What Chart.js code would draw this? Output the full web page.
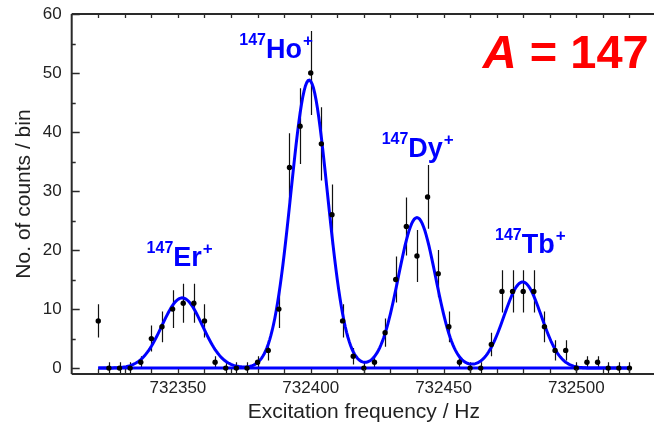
<!DOCTYPE html>
<html>
<head>
<meta charset="utf-8">
<script src="https://cdn.jsdelivr.net/npm/chart.js@4/dist/chart.umd.min.js"></script>
<style>
  html, body { margin: 0; padding: 0; background: #fff; overflow: hidden; width: 654px; height: 425px; }
  #wrap { position: relative; width: 660px; height: 425px; }
</style>
</head>
<body>
<div id="wrap"><canvas id="c" width="660" height="425"></canvas></div>
<script>
// Excitation frequency bins (Hz)
const frequencies = [
  732320, 732324, 732328, 732332, 732336, 732340, 732344, 732348, 732352, 732356,
  732360, 732364, 732368, 732372, 732376, 732380, 732384, 732388, 732392, 732396,
  732400, 732404, 732408, 732412, 732416, 732420, 732424, 732428, 732432, 732436,
  732440, 732444, 732448, 732452, 732456, 732460, 732464, 732468, 732472, 732476,
  732480, 732484, 732488, 732492, 732496, 732500, 732504, 732508, 732512, 732516,
  732520
];
// Counts per bin
const counts = [
  8, 0, 0, 0, 1, 5, 7, 10, 11, 11,
  8, 1, 0, 0, 0, 1, 3, 10, 34, 41,
  50, 38, 26, 8, 2, 0, 1, 6, 15, 24,
  19, 29, 16, 7, 1, 0, 0, 4, 13, 13,
  13, 13, 7, 3, 3, 0, 1, 1, 0, 0,
  0
];
// Statistical uncertainty of each bin
const countErrors = [
  2.8, 1, 1, 1, 1, 2.2, 2.6, 3.2, 3.3, 3.3,
  2.8, 1, 1, 1, 1, 1, 1.7, 3.2, 5.8, 6.4,
  7.1, 6.2, 5.1, 2.8, 1.4, 1, 1, 2.4, 3.9, 4.9,
  4.4, 5.4, 4, 2.6, 1, 1, 1, 2, 3.6, 3.6,
  3.6, 3.6, 2.6, 1.7, 1.7, 1, 1, 1, 1, 1,
  1
];
// Gaussian fit of the four isobars
const peakNames   = ['Er', 'Ho', 'Dy', 'Tb'];
const peakCenters = [732351.6, 732399.4, 732440.0, 732479.8];
const peakHeights = [11.9, 48.8, 25.5, 14.6];
const peakSigmas  = [7.6, 6.9, 7.0, 7.0];
const massNumber  = '147';

const xTickValues = [732350, 732400, 732450, 732500];
const yTickValues = [0, 10, 20, 30, 40, 50, 60];

const FONT = '"Liberation Sans", Arial, sans-serif';
const BLUE = '#0000ff';

// fitted line, evaluated on a fine grid
function fitValue(f) {
  let s = 0;
  for (let i = 0; i < peakCenters.length; i++) {
    const d = f - peakCenters[i];
    s += peakHeights[i] * Math.exp(-d * d / (2 * peakSigmas[i] * peakSigmas[i]));
  }
  return s;
}
const fitCurve = [];
for (let f = frequencies[0]; f <= frequencies[frequencies.length - 1] + 1e-6; f += 0.5) {
  fitCurve.push({ x: f, y: fitValue(f) });
}

// label anchors (left edge / baseline, in data units)
const labelAnchors = [
  { x: 732338.2, y: 17.3 },
  { x: 732373.1, y: 52.5 },
  { x: 732426.7, y: 35.8 },
  { x: 732469.4, y: 19.5 }
];

const errorBars = {
  id: 'errorBars',
  beforeDatasetsDraw(chart) {
    const { ctx, scales: { x, y } } = chart;
    ctx.save();
    ctx.strokeStyle = '#111';
    ctx.lineWidth = 1.2;
    ctx.beginPath();
    for (let i = 0; i < frequencies.length; i++) {
      const px = Math.round(x.getPixelForValue(frequencies[i])) + 0.5;
      ctx.moveTo(px, y.getPixelForValue(counts[i] - countErrors[i]));
      ctx.lineTo(px, y.getPixelForValue(counts[i] + countErrors[i]));
    }
    ctx.stroke();
    ctx.restore();
  }
};

const frame = {
  id: 'frame',
  afterDraw(chart) {
    const { ctx, chartArea: a, scales: { x, y } } = chart;
    ctx.save();
    ctx.strokeStyle = '#2a2a2a';
    ctx.lineWidth = 2;
    ctx.beginPath();
    ctx.moveTo(a.left, a.top); ctx.lineTo(a.right + 5, a.top);
    ctx.moveTo(a.left, a.top); ctx.lineTo(a.left, a.bottom);
    ctx.moveTo(a.left, a.bottom); ctx.lineTo(a.right + 5, a.bottom);
    ctx.stroke();
    ctx.lineWidth = 1.3;
    ctx.beginPath();
    // x ticks every 10 Hz, inward on bottom and top
    for (let f = Math.ceil(x.min / 10) * 10; f <= x.max; f += 10) {
      const px = Math.round(x.getPixelForValue(f)) + 0.5;
      if (px <= a.left + 2) continue;
      ctx.moveTo(px, a.bottom); ctx.lineTo(px, a.bottom - 5);
      ctx.moveTo(px, a.top); ctx.lineTo(px, a.top + 4);
    }
    // y ticks: major 10, minor 5
    for (let v = 0; v <= y.max; v += 5) {
      const py = Math.round(y.getPixelForValue(v)) + 0.5;
      const len = v % 10 === 0 ? 8 : 4;
      ctx.moveTo(a.left, py); ctx.lineTo(a.left + len, py);
    }
    ctx.stroke();
    ctx.restore();
  }
};

const peakLabels = {
  id: 'peakLabels',
  afterDatasetsDraw(chart) {
    const { ctx, scales: { x, y } } = chart;
    ctx.save();
    ctx.fillStyle = BLUE;
    ctx.textBaseline = 'alphabetic';
    ctx.textAlign = 'left';
    for (let i = 0; i < peakNames.length; i++) {
      let px = x.getPixelForValue(labelAnchors[i].x);
      const base = y.getPixelForValue(labelAnchors[i].y);
      ctx.font = 'bold 16px ' + FONT;
      ctx.fillText(massNumber, px, base - 13);
      px += ctx.measureText(massNumber).width;
      ctx.font = 'bold 27px ' + FONT;
      ctx.fillText(peakNames[i], px, base);
      px += ctx.measureText(peakNames[i]).width + 1;
      ctx.font = 'bold 17px ' + FONT;
      ctx.fillText('+', px, base - 12);
    }
    // mass number tag
    ctx.fillStyle = '#ff0000';
    let tx = x.getPixelForValue(732464.8);
    const ty = y.getPixelForValue(50.8);
    ctx.font = 'italic bold 47px ' + FONT;
    ctx.fillText('A', tx, ty);
    tx += ctx.measureText('A').width;
    ctx.font = 'bold 47px ' + FONT;
    ctx.fillText(' = ' + massNumber, tx, ty);
    ctx.restore();
  }
};

new Chart(document.getElementById('c'), {
  type: 'scatter',
  data: {
    datasets: [
      {
        label: 'counts',
        data: frequencies.map((f, i) => ({ x: f, y: counts[i] })),
        backgroundColor: '#000',
        borderColor: '#000',
        pointRadius: 2.7,
        pointBorderWidth: 0,
        order: 0
      },
      {
        label: 'fit',
        type: 'line',
        data: fitCurve,
        borderColor: BLUE,
        borderWidth: 3,
        pointRadius: 0,
        tension: 0,
        fill: false,
        order: 1
      },
      {
        label: 'baseline',
        type: 'line',
        data: [{ x: frequencies[0], y: 0 }, { x: frequencies[frequencies.length - 1], y: 0 }],
        borderColor: BLUE,
        borderWidth: 3,
        pointRadius: 0,
        fill: false,
        order: 2
      }
    ]
  },
  options: {
    responsive: false,
    devicePixelRatio: 1,
    animation: false,
    layout: { padding: { top: 14, right: 3, left: 0, bottom: 0 } },
    plugins: { legend: { display: false }, tooltip: { enabled: false } },
    scales: {
      x: {
        type: 'linear',
        min: 732310,
        max: 732530,
        grid: { display: false, drawTicks: false },
        border: { display: false },
        afterBuildTicks: (s) => { s.ticks = xTickValues.map(v => ({ value: v })); },
        afterFit: (s) => { s.height = 51; s.paddingLeft = 0; s.paddingRight = 0; },
        ticks: {
          color: '#222',
          padding: 4,
          maxRotation: 0,
          font: { family: FONT, size: 17 },
          callback: (v) => String(v)
        },
        title: {
          display: true,
          text: 'Excitation frequency / Hz',
          color: '#222',
          font: { family: FONT, size: 21 },
          padding: { top: 0, bottom: 0 }
        }
      },
      y: {
        min: -1,
        max: 60,
        grid: { display: false, drawTicks: false },
        border: { display: false },
        afterBuildTicks: (s) => { s.ticks = yTickValues.map(v => ({ value: v })); },
        afterFit: (s) => { s.width = 71.7; s.paddingTop = 0; s.paddingBottom = 0; },
        ticks: {
          color: '#222',
          padding: 10,
          font: { family: FONT, size: 17 }
        },
        title: {
          display: true,
          text: 'No. of counts / bin',
          color: '#222',
          font: { family: FONT, size: 21 },
          padding: { top: 12, bottom: 0 }
        }
      }
    }
  },
  plugins: [errorBars, peakLabels, frame]
});
</script>
</body>
</html>
